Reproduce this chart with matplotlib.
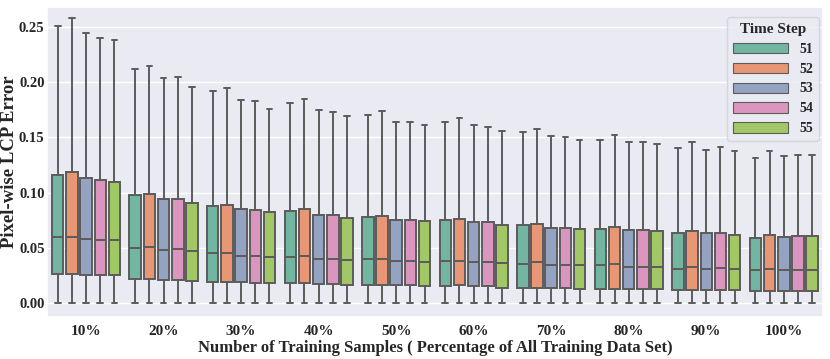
import numpy as np
import matplotlib
matplotlib.use("Agg")
import matplotlib.pyplot as plt
import seaborn as sns
from matplotlib.patches import Patch

# Box statistics (whisker low, q1, median, q3, whisker high)
groups = ["10%", "20%", "30%", "40%", "50%", "60%", "70%", "80%", "90%", "100%"]
time_steps = ["51", "52", "53", "54", "55"]

whisker_hi = [
    [0.251, 0.258, 0.245, 0.240, 0.238],
    [0.212, 0.215, 0.204, 0.205, 0.196],
    [0.192, 0.195, 0.184, 0.183, 0.176],
    [0.181, 0.185, 0.175, 0.173, 0.169],
    [0.170, 0.174, 0.164, 0.164, 0.161],
    [0.164, 0.168, 0.161, 0.159, 0.156],
    [0.155, 0.158, 0.151, 0.150, 0.148],
    [0.148, 0.152, 0.146, 0.146, 0.144],
    [0.140, 0.146, 0.139, 0.141, 0.138],
    [0.131, 0.138, 0.133, 0.134, 0.134],
]
q3 = [
    [0.116, 0.119, 0.113, 0.111, 0.110],
    [0.098, 0.099, 0.094, 0.094, 0.091],
    [0.088, 0.089, 0.085, 0.084, 0.082],
    [0.083, 0.085, 0.080, 0.080, 0.077],
    [0.078, 0.079, 0.075, 0.075, 0.074],
    [0.075, 0.076, 0.073, 0.073, 0.071],
    [0.071, 0.072, 0.068, 0.068, 0.067],
    [0.067, 0.069, 0.066, 0.066, 0.065],
    [0.063, 0.065, 0.063, 0.063, 0.062],
    [0.059, 0.062, 0.060, 0.061, 0.061],
]
medians = [
    [0.060, 0.060, 0.058, 0.057, 0.057],
    [0.050, 0.051, 0.048, 0.049, 0.047],
    [0.045, 0.045, 0.043, 0.043, 0.042],
    [0.042, 0.043, 0.040, 0.040, 0.039],
    [0.040, 0.040, 0.038, 0.038, 0.037],
    [0.038, 0.038, 0.037, 0.037, 0.036],
    [0.035, 0.037, 0.034, 0.034, 0.034],
    [0.034, 0.035, 0.033, 0.033, 0.033],
    [0.031, 0.033, 0.031, 0.032, 0.031],
    [0.030, 0.031, 0.030, 0.030, 0.030],
]
q1 = [
    [0.026, 0.026, 0.025, 0.025, 0.025],
    [0.022, 0.022, 0.021, 0.021, 0.020],
    [0.019, 0.019, 0.019, 0.018, 0.018],
    [0.018, 0.018, 0.017, 0.017, 0.016],
    [0.016, 0.016, 0.016, 0.016, 0.015],
    [0.015, 0.016, 0.015, 0.015, 0.014],
    [0.014, 0.014, 0.014, 0.014, 0.013],
    [0.013, 0.013, 0.013, 0.013, 0.013],
    [0.012, 0.012, 0.012, 0.012, 0.012],
    [0.011, 0.011, 0.011, 0.011, 0.011],
]
whisker_lo = [[0.0] * 5 for _ in groups]

sns.set_theme(style="darkgrid")
plt.rcParams["font.family"] = ["Liberation Serif", "DejaVu Serif"]
plt.rcParams["font.weight"] = "bold"

colors = sns.color_palette("Set2", 5, desat=0.75)
line_gray = "#5c5c5c"

fig, ax = plt.subplots(figsize=(8.3, 3.59), dpi=100)

slot = 0.183
box_w = 0.148
for j, ts in enumerate(time_steps):
    stats = []
    for i in range(len(groups)):
        stats.append({
            "whislo": whisker_lo[i][j], "q1": q1[i][j], "med": medians[i][j],
            "q3": q3[i][j], "whishi": whisker_hi[i][j], "fliers": [],
        })
    pos = np.arange(len(groups)) + (j - 2) * slot
    ax.bxp(stats, positions=pos, widths=box_w, patch_artist=True,
           showfliers=False, manage_ticks=False,
           boxprops=dict(facecolor=colors[j], edgecolor=line_gray, linewidth=1.4),
           medianprops=dict(color=line_gray, linewidth=1.4),
           whiskerprops=dict(color=line_gray, linewidth=1.4),
           capprops=dict(color=line_gray, linewidth=1.4))

ax.set_xlim(-0.5, len(groups) - 0.5)
ax.set_ylim(-0.0127, 0.268)
ax.set_xticks(np.arange(len(groups)))
ax.set_xticklabels(groups, fontsize=11, fontweight="bold")
ax.set_yticks([0.0, 0.05, 0.10, 0.15, 0.20, 0.25])
ax.set_yticklabels(["0.00", "0.05", "0.10", "0.15", "0.20", "0.25"], fontsize=10.5, fontweight="bold")
ax.xaxis.grid(False)
ax.tick_params(axis="y", length=0, pad=2)
ax.tick_params(axis="x", length=0, pad=6)

ax.set_xlabel("Number of Training Samples ( Percentage of All Training Data Set)",
              fontsize=12, fontweight="bold", labelpad=1)
ax.set_ylabel("Pixel-wise LCP Error", fontsize=13.5, fontweight="bold")
ax.yaxis.set_label_coords(-0.038, 0.5)

handles = [Patch(facecolor=colors[j], edgecolor=line_gray, linewidth=0.8, label=ts)
           for j, ts in enumerate(time_steps)]
leg = ax.legend(handles=handles, title="Time Step", loc="upper right",
                bbox_to_anchor=(0.995, 0.968),
                fontsize=10, title_fontsize=11, handlelength=4.0, handleheight=0.75,
                labelspacing=0.5, borderaxespad=0.0, frameon=True)
leg.get_title().set_fontweight("bold")
for t in leg.get_texts():
    t.set_fontweight("bold")
leg.get_frame().set_facecolor("#EAEAF2")
leg.get_frame().set_edgecolor("#d0d0d8")

fig.subplots_adjust(left=0.057, right=0.991, top=0.98, bottom=0.117)
fig.savefig("out.png", dpi=100)
